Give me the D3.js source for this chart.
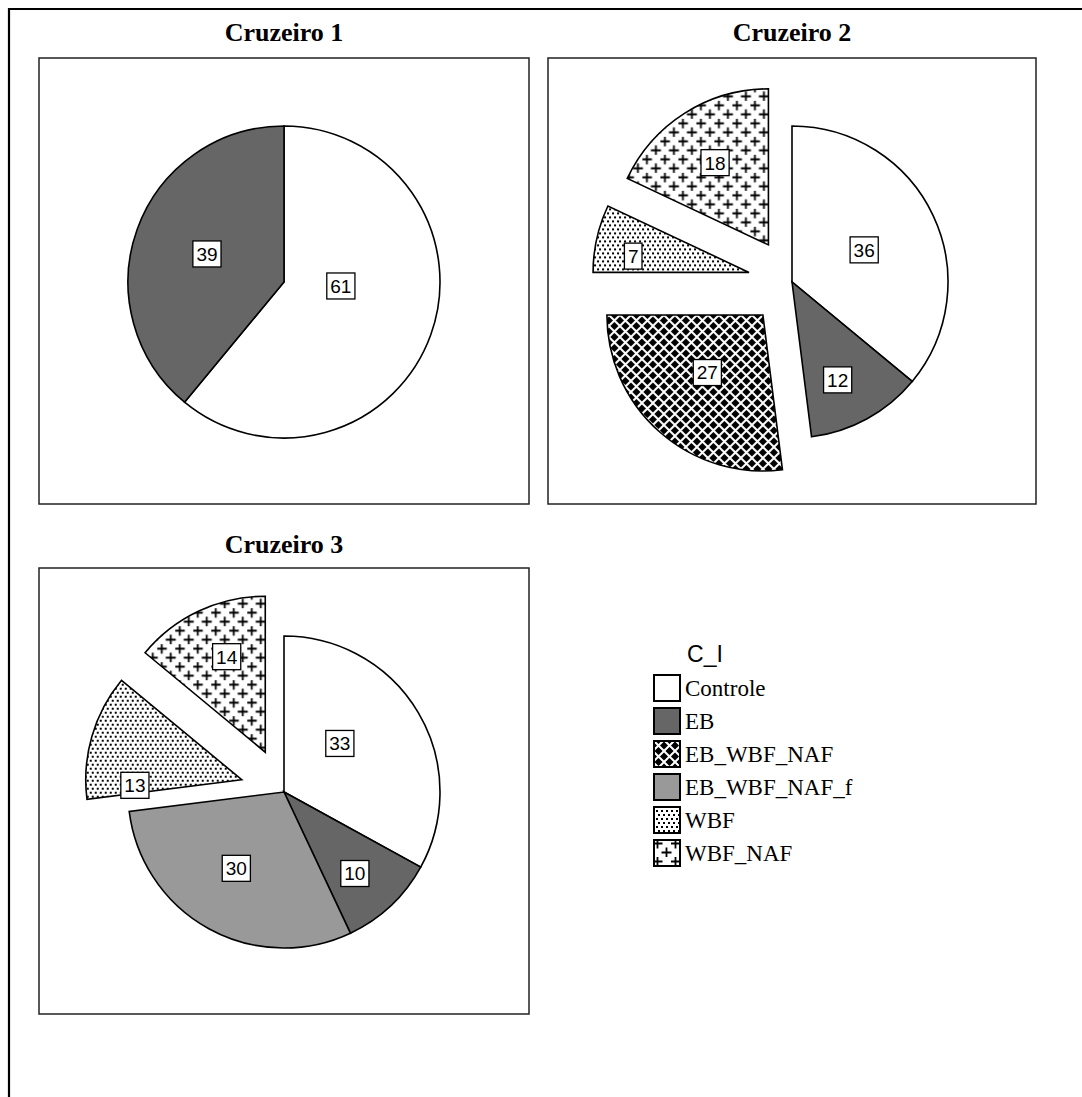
<!DOCTYPE html>
<html>
<head>
<meta charset="utf-8">
<script src="https://cdn.jsdelivr.net/npm/d3@7"></script>
<style>
  html, body { margin: 0; padding: 0; background: #fff; }
  svg { display: block; }
</style>
</head>
<body>
<svg id="chart" width="1082" height="1097"></svg>
<script>
// ---- data ----
const categories = ["Controle", "EB", "EB_WBF_NAF", "EB_WBF_NAF_f", "WBF", "WBF_NAF"];
const cruiseTitles = ["Cruzeiro 1", "Cruzeiro 2", "Cruzeiro 3"];
const cruise1Values = [61, 39, 0, 0, 0, 0];
const cruise2Values = [36, 12, 27, 0, 7, 18];
const cruise3Values = [33, 10, 0, 30, 13, 14];
const explodedCategories = ["EB_WBF_NAF", "WBF", "WBF_NAF"];
const legendTitle = "C_I";

// ---- layout ----
const panels = [
  { x: 39,  y: 58,  w: 490, h: 446, titleY: 41 },
  { x: 548, y: 58,  w: 488, h: 446, titleY: 41 },
  { x: 39,  y: 568, w: 490, h: 446, titleY: 553 }
];
const radius = 156;
const explodeDist = 44;
// label placement per slice: [distance from slice apex, angle in degrees clockwise from 12 o'clock]
const labelPolar = [
  [[57, 94], [82, 290], null, null, null, null],
  [[79, 66], [108, 155], [80, 224], null, [117, 278], [98, 327]],
  [[74, 49], [108, 139], null, [90, 212], [107, 267], [103, 338]]
];
const cruiseValues = [cruise1Values, cruise2Values, cruise3Values];

const svg = d3.select("#chart");
const defs = svg.append("defs");

// cross-hatch: black with white diagonals
const hs = 11;
const pHatch = defs.append("pattern").attr("id", "pat-hatch")
  .attr("patternUnits", "userSpaceOnUse").attr("width", hs).attr("height", hs);
pHatch.append("rect").attr("width", hs).attr("height", hs).attr("fill", "#000");
pHatch.append("path").attr("d", `M-1,-1L${hs + 1},${hs + 1}M${hs + 1},-1L-1,${hs + 1}`)
  .attr("stroke", "#fff").attr("stroke-width", 2);

// dots
const pDots = defs.append("pattern").attr("id", "pat-dots")
  .attr("patternUnits", "userSpaceOnUse").attr("width", 5).attr("height", 8);
pDots.append("rect").attr("width", 5).attr("height", 8).attr("fill", "#fff");
pDots.append("rect").attr("x", 0).attr("y", 0).attr("width", 2).attr("height", 2)
  .attr("fill", "#000").attr("shape-rendering", "crispEdges");
pDots.append("rect").attr("x", 2.5).attr("y", 4).attr("width", 2).attr("height", 2)
  .attr("fill", "#000").attr("shape-rendering", "crispEdges");

// plus signs
const ps = 18;
const pPlus = defs.append("pattern").attr("id", "pat-plus")
  .attr("patternUnits", "userSpaceOnUse").attr("width", ps).attr("height", ps);
pPlus.append("rect").attr("width", ps).attr("height", ps).attr("fill", "#fff");
pPlus.append("path")
  .attr("d", "M-0.5,4.5H9.5M4.5,-0.5V9.5M8.5,13.5H18.5M13.5,8.5V18.5M-0.5,13.5H0.5")
  .attr("stroke", "#000").attr("stroke-width", 1.8).attr("fill", "none");

const fills = {
  "Controle": "#ffffff",
  "EB": "#666666",
  "EB_WBF_NAF": "url(#pat-hatch)",
  "EB_WBF_NAF_f": "#999999",
  "WBF": "url(#pat-dots)",
  "WBF_NAF": "url(#pat-plus)"
};

// outer frame (top and left edges)
svg.append("path")
  .attr("d", "M9,1097V9H1082")
  .attr("fill", "none").attr("stroke", "#000").attr("stroke-width", 2.2);

const pie = d3.pie().sort(null).value(d => d.value);
const arc = d3.arc().innerRadius(0).outerRadius(radius);

panels.forEach((p, pi) => {
  const g = svg.append("g");
  g.append("rect")
    .attr("x", p.x).attr("y", p.y).attr("width", p.w).attr("height", p.h)
    .attr("fill", "#fff").attr("stroke", "#222").attr("stroke-width", 1.5);
  g.append("text")
    .attr("x", p.x + p.w / 2).attr("y", p.titleY)
    .attr("text-anchor", "middle")
    .attr("font-family", "'Liberation Serif', 'Times New Roman', serif")
    .attr("font-weight", "bold").attr("font-size", 26)
    .text(cruiseTitles[pi]);

  const cx = p.x + p.w / 2, cy = p.y + 224;
  const data = categories.map((c, i) => ({ cat: c, value: cruiseValues[pi][i], idx: i }));
  const arcs = pie(data).filter(a => a.value > 0);

  const pieG = g.append("g").attr("transform", `translate(${cx},${cy})`);
  const slice = pieG.selectAll("g.slice").data(arcs).join("g")
    .attr("class", "slice")
    .attr("transform", a => {
      if (!explodedCategories.includes(a.data.cat)) return null;
      const mid = (a.startAngle + a.endAngle) / 2;
      return `translate(${explodeDist * Math.sin(mid)},${-explodeDist * Math.cos(mid)})`;
    });
  slice.append("path")
    .attr("d", arc)
    .attr("fill", a => fills[a.data.cat])
    .attr("stroke", "#000").attr("stroke-width", 1.6).attr("stroke-linejoin", "miter");

  const lbl = slice.append("g")
    .attr("transform", a => {
      const [r, deg] = labelPolar[pi][a.data.idx];
      const t = deg * Math.PI / 180;
      return `translate(${r * Math.sin(t)},${-r * Math.cos(t)})`;
    });
  lbl.each(function (a) {
    const el = d3.select(this);
    const txt = el.append("text")
      .attr("text-anchor", "middle").attr("dy", "0.36em")
      .attr("font-family", "'Liberation Sans', Arial, sans-serif")
      .attr("font-size", 19)
      .text(a.value);
    const w = txt.node().getComputedTextLength() + 7;
    el.insert("rect", "text")
      .attr("x", -w / 2).attr("y", -13).attr("width", w).attr("height", 26)
      .attr("fill", "#fff").attr("stroke", "#000").attr("stroke-width", 1.3);
  });
});

// legend
const lg = svg.append("g").attr("transform", "translate(653,0)");
lg.append("text")
  .attr("x", 52).attr("y", 662)
  .attr("text-anchor", "middle")
  .attr("font-family", "'Liberation Sans', Arial, sans-serif")
  .attr("font-size", 23)
  .text(legendTitle);
const items = lg.selectAll("g.item").data(categories).join("g")
  .attr("class", "item")
  .attr("transform", (d, i) => `translate(0,${674 + i * 33})`);
items.append("rect")
  .attr("x", 1).attr("y", 1).attr("width", 26).attr("height", 26)
  .attr("fill", d => fills[d]).attr("stroke", "#000").attr("stroke-width", 2);
items.append("text")
  .attr("x", 32).attr("y", 22)
  .attr("font-family", "'Liberation Serif', 'Times New Roman', serif")
  .attr("font-size", 23)
  .text(d => d);
</script>
</body>
</html>
